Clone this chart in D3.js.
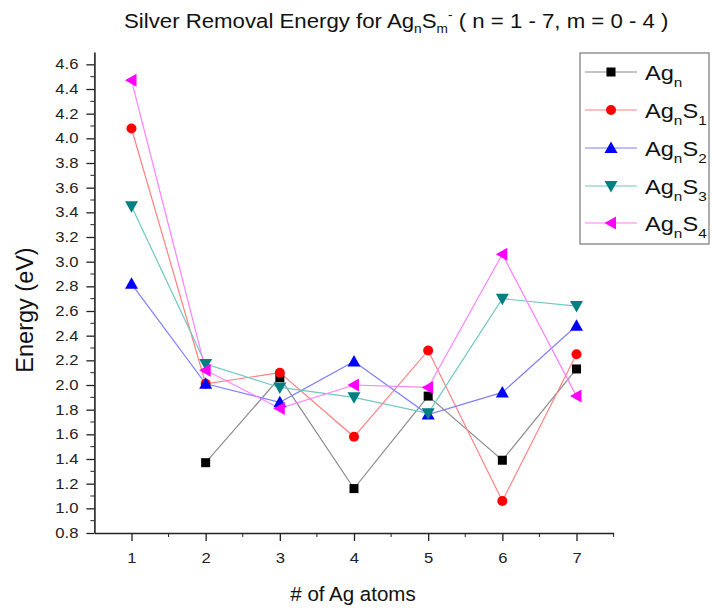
<!DOCTYPE html>
<html>
<head>
<meta charset="utf-8">
<script src="https://cdn.jsdelivr.net/npm/d3@7"></script>
<style>
  html, body { margin: 0; padding: 0; background: #fff; }
  svg { display: block; font-family: "Liberation Sans", Arial, sans-serif; }
</style>
</head>
<body>
<svg id="chart" width="712" height="613"></svg>
<script>
// Number of Ag atoms
const atoms = [1, 2, 3, 4, 5, 6, 7];

// Silver removal energy (eV) per cluster family
const agN   = [null, 1.37, 2.06, 1.16, 1.91, 1.39, 2.13];
const agNS1 = [4.08, 2.01, 2.10, 1.58, 2.28, 1.06, 2.25];
const agNS2 = [2.82, 2.01, 1.86, 2.19, 1.76, 1.94, 2.48];
const agNS3 = [3.45, 2.17, 1.98, 1.90, 1.77, 2.70, 2.64];
const agNS4 = [4.47, 2.12, 1.81, 2.00, 1.98, 3.06, 1.91];

const yTicks = [0.8, 1.0, 1.2, 1.4, 1.6, 1.8, 2.0, 2.2, 2.4, 2.6, 2.8, 3.0, 3.2, 3.4, 3.6, 3.8, 4.0, 4.2, 4.4, 4.6];

const series = [
  { sub: null, values: agN,   line: "#8c8c8c", fill: "#000000", shape: "square" },
  { sub: "1",  values: agNS1, line: "#ff8080", fill: "#ff0000", shape: "circle" },
  { sub: "2",  values: agNS2, line: "#8080ff", fill: "#0000ff", shape: "up" },
  { sub: "3",  values: agNS3, line: "#70c8c0", fill: "#008080", shape: "down" },
  { sub: "4",  values: agNS4, line: "#ff80ff", fill: "#ff00ff", shape: "left" }
];

const svg = d3.select("#chart");
const x = d3.scaleLinear().domain([0.5, 7.5]).range([94.4, 613.6]);
const y = d3.scaleLinear().domain([0.8, 4.7]).range([533, 52]);

const axisColor = "#222";
const labelStretch = 1.19;   // wide-set lettering used for labels

// Y axis with major and minor ticks
const yAxis = svg.append("g").attr("transform", `translate(${x(0.5)},0)`);
yAxis.call(d3.axisLeft(y).tickValues(yTicks).tickFormat(d3.format(".1f")).tickSize(8).tickSizeOuter(0));
const yMinor = d3.range(0.9, 4.7, 0.2).map(v => +v.toFixed(1));
yAxis.selectAll(".minor").data(yMinor).enter().append("line")
  .attr("class", "minor").attr("x1", 0).attr("x2", -4)
  .attr("y1", d => y(d)).attr("y2", d => y(d)).attr("stroke", axisColor);

// X axis with major and minor ticks
const xAxis = svg.append("g").attr("transform", `translate(0,${y(0.8)})`);
xAxis.call(d3.axisBottom(x).tickValues(atoms).tickFormat(d3.format("d")).tickSize(8).tickSizeOuter(0));
const xMinor = d3.range(1.5, 7.6, 1);
xAxis.selectAll(".minor").data(xMinor).enter().append("line")
  .attr("class", "minor").attr("y1", 0).attr("y2", 4)
  .attr("x1", d => x(d)).attr("x2", d => x(d)).attr("stroke", axisColor);

[yAxis, xAxis].forEach(g => {
  g.select(".domain").attr("stroke", axisColor).attr("stroke-width", 1.6);
  g.selectAll(".tick line").attr("stroke", axisColor).attr("stroke-width", 1.3);
  g.selectAll(".tick text").attr("font-size", 14).attr("fill", "#222")
    .attr("font-family", "Liberation Sans, Arial, sans-serif")
    .attr("transform", `scale(${labelStretch},1)`);
});
yAxis.selectAll(".tick text").attr("x", -16 / labelStretch);
xAxis.selectAll(".tick text").attr("y", 20);

// Marker shapes
function drawMarker(g, shape, fill, cx, cy) {
  if (shape === "square") {
    g.append("rect").attr("x", cx - 4.5).attr("y", cy - 4.5).attr("width", 9).attr("height", 9).attr("fill", fill);
  } else if (shape === "circle") {
    g.append("circle").attr("cx", cx).attr("cy", cy).attr("r", 5).attr("fill", fill);
  } else {
    let pts;
    if (shape === "up") pts = [[cx, cy - 6.5], [cx - 6.5, cy + 5], [cx + 6.5, cy + 5]];
    else if (shape === "down") pts = [[cx, cy + 6.5], [cx - 6.5, cy - 5], [cx + 6.5, cy - 5]];
    else pts = [[cx - 6.5, cy], [cx + 5, cy - 6.5], [cx + 5, cy + 6.5]];
    g.append("polygon").attr("points", pts.map(p => p.join(",")).join(" ")).attr("fill", fill);
  }
}

const line = d3.line()
  .defined(d => d.v != null)
  .x(d => x(d.n)).y(d => y(d.v));

const plot = svg.append("g");
series.forEach(s => {
  const pts = atoms.map((n, i) => ({ n, v: s.values[i] }));
  plot.append("path").datum(pts).attr("d", line)
    .attr("fill", "none").attr("stroke", s.line).attr("stroke-width", 1.2);
});
series.forEach(s => {
  const g = plot.append("g");
  atoms.forEach((n, i) => {
    if (s.values[i] != null) drawMarker(g, s.shape, s.fill, x(n), y(s.values[i]));
  });
});

// Legend
const legend = svg.append("g");
legend.append("rect").attr("x", 580).attr("y", 53).attr("width", 129).attr("height", 191)
  .attr("fill", "#fff").attr("stroke", "#777").attr("stroke-width", 1.2);
const rowY = [72, 110, 148, 186, 223];
series.forEach((s, i) => {
  const ry = rowY[i];
  legend.append("line").attr("x1", 585).attr("x2", 637).attr("y1", ry).attr("y2", ry)
    .attr("stroke", s.line).attr("stroke-width", 1.2);
  drawMarker(legend, s.shape, s.fill, 611, ry);
  const t = legend.append("g").attr("transform", `translate(645,${ry + 8}) scale(1.18,1)`)
    .append("text").attr("x", 0).attr("y", 0).attr("font-size", 20).attr("fill", "#111");
  t.append("tspan").text("Ag");
  t.append("tspan").attr("font-size", 13).attr("dy", 7).text("n");
  if (s.sub) {
    t.append("tspan").attr("dy", -7).text("S");
    t.append("tspan").attr("font-size", 13).attr("dy", 7).text(s.sub);
  }
});

// Title
const title = svg.append("g").attr("transform", "translate(124,28) scale(1.14,1)")
  .append("text").attr("x", 0).attr("y", 0).attr("font-size", 19.5).attr("fill", "#111");
title.append("tspan").text("Silver Removal Energy for Ag");
title.append("tspan").attr("font-size", 12).attr("dy", 5).text("n");
title.append("tspan").attr("dy", -5).text("S");
title.append("tspan").attr("font-size", 12).attr("dy", 5).text("m");
title.append("tspan").attr("font-size", 12).attr("dy", -14).text("-");
title.append("tspan").attr("dy", 9).text(" ( n = 1 - 7, m = 0 - 4 )");

// Axis titles
svg.append("text").attr("x", 353).attr("y", 601).attr("text-anchor", "middle")
  .attr("font-size", 20.5).attr("fill", "#111").text("# of Ag atoms");
svg.append("text").attr("transform", "translate(33,310) rotate(-90)").attr("text-anchor", "middle")
  .attr("font-size", 23.5).attr("fill", "#111").text("Energy (eV)");
</script>
</body>
</html>
